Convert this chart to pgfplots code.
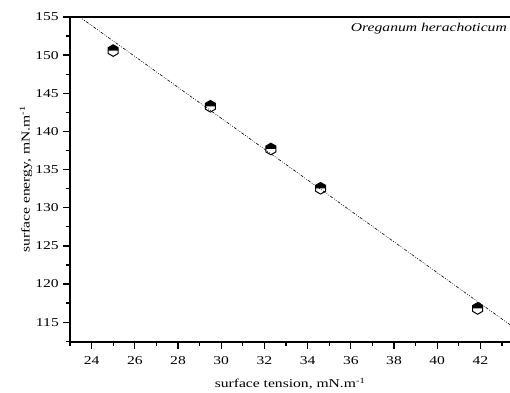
\documentclass[border=0pt]{standalone}
\usepackage{fontspec}
\setmainfont{Liberation Serif}[FakeStretch=1.3]
\usepackage{pgfplots}
\pgfplotsset{compat=1.18}
\pgfdeclareplotmark{halfhex}{%
  \pgfpathmoveto{\pgfqpoint{0.866\pgfplotmarksize}{0pt}}%
  \pgfpathlineto{\pgfqpointpolar{30}{\pgfplotmarksize}}%
  \pgfpathlineto{\pgfqpointpolar{90}{\pgfplotmarksize}}%
  \pgfpathlineto{\pgfqpointpolar{150}{\pgfplotmarksize}}%
  \pgfpathlineto{\pgfqpoint{-0.866\pgfplotmarksize}{0pt}}%
  \pgfpathclose
  \pgfusepathqfill
  \pgfpathmoveto{\pgfqpointpolar{30}{\pgfplotmarksize}}%
  \pgfpathlineto{\pgfqpointpolar{90}{\pgfplotmarksize}}%
  \pgfpathlineto{\pgfqpointpolar{150}{\pgfplotmarksize}}%
  \pgfpathlineto{\pgfqpointpolar{210}{\pgfplotmarksize}}%
  \pgfpathlineto{\pgfqpointpolar{270}{\pgfplotmarksize}}%
  \pgfpathlineto{\pgfqpointpolar{330}{\pgfplotmarksize}}%
  \pgfpathclose
  \pgfusepathqstroke
}
\begin{document}
\fontsize{12}{14}\selectfont
\begin{tikzpicture}
\begin{axis}[
  scale only axis, width=440pt, height=325pt,
  xmin=23, xmax=43.37, ymin=112.4, ymax=155,
  axis x line=box, axis y line=left,
  axis line style={-, line width=1.6pt},
  xtick={24,26,...,42}, minor xtick={23,25,...,43},
  ytick={115,120,...,155}, minor ytick={112.5,117.5,...,152.5},
  tick align=outside, xtick pos=bottom, ytick pos=left,
  major tick length=7pt, minor tick length=4pt,
  every tick/.style={black, line width=1.3pt},
  tick label style={font=\fontsize{12}{14}\selectfont},
  xticklabel style={yshift=-3pt},
  /pgf/number format/assume math mode=true,
  xlabel={surface tension, mN.m\textsuperscript{-1}},
  ylabel={surface energy, mN.m\textsuperscript{-1}},
  every axis x label/.style={at={(axis description cs:0.5,0)}, anchor=center, yshift=-42pt, font=\fontsize{12}{14}\selectfont},
  every axis y label/.style={at={(axis description cs:0,0.5)}, anchor=center, rotate=90, yshift=44pt, font=\fontsize{12}{14}\selectfont},
]
\addplot[black, line width=0.6pt, dash pattern=on 3pt off 1.5pt on 0.8pt off 1.5pt on 0.8pt off 1.5pt]
  coordinates {(23.40,155.1) (43.50,114.4)};
\addplot[only marks, mark=halfhex, mark size=5.8pt, mark options={fill=black, draw=black, line width=1pt}]
  coordinates {(25.0,150.6) (29.5,143.3) (32.3,137.7) (34.6,132.55) (41.87,116.8)};
\node[anchor=north east, inner sep=0pt, font=\fontsize{12}{14}\selectfont\itshape] at (rel axis cs:1,1) [xshift=-3pt, yshift=-6pt] {Oreganum herachoticum};
\end{axis}
\pgfresetboundingbox
\path (current axis.south west) ++(-70pt,-50pt) rectangle ++(510pt,392pt);
\end{tikzpicture}
\end{document}
